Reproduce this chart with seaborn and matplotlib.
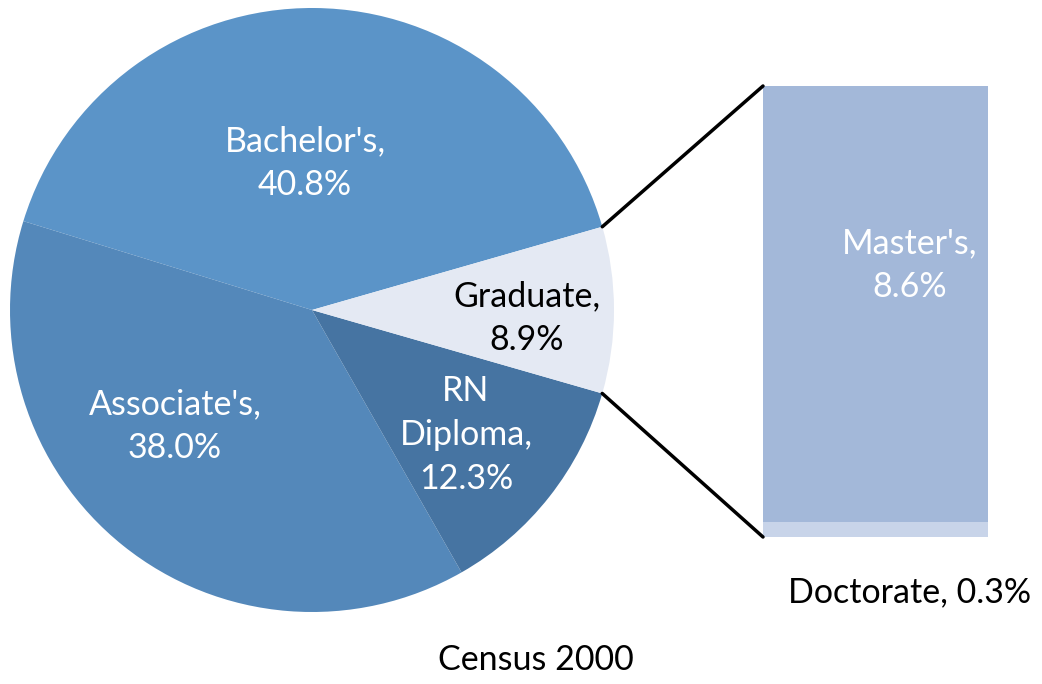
import numpy as np
import pandas as pd
import seaborn as sns
import matplotlib.pyplot as plt
from matplotlib.patches import ConnectionPatch

# pie data (counterclockwise from the Graduate slice's top edge)
pie_labels = ["Bachelor's", "Associate's", "RN Diploma", "Graduate"]
pie_values = [40.8, 38.0, 12.3, 8.9]
pie_colors = ["#5B94C8", "#5488BA", "#4674A2", "#E4E9F3"]

# breakdown of the Graduate slice
grad_labels = ["Master's", "Doctorate"]
grad_values = [8.6, 0.3]
grad_colors = ["#A3B8D9", "#C8D4E9"]

sns.set_theme(style="white")
plt.rcParams['font.family'] = ['Lato', 'DejaVu Sans']

W, H = 1042, 684
fig = plt.figure(figsize=(W / 100, H / 100), dpi=100)
ax = fig.add_axes([0, 0, 1, 1])

wedges, _ = ax.pie(pie_values, colors=pie_colors, startangle=16, counterclock=True,
                   center=(312, H - 310), radius=302, wedgeprops=dict(linewidth=0))
ax.set_xlim(0, W)
ax.set_ylim(0, H)
ax.set_aspect('equal')
ax.axis('off')

fs = 24.5
ls = 1.45
ax.text(305, H - 163, "Bachelor's,\n40.8%", ha='center', va='center', color='white', fontsize=fs, linespacing=ls)
ax.text(175, H - 426, "Associate's,\n38.0%", ha='center', va='center', color='white', fontsize=fs, linespacing=ls)
ax.text(466, H - 435, "RN\nDiploma,\n12.3%", ha='center', va='center', color='white', fontsize=fs, linespacing=ls)
ax.text(527, H - 318, "Graduate,\n8.9%", ha='center', va='center', color='black', fontsize=fs, linespacing=ls)
ax.text(536, H - 660, "Census 2000", ha='center', va='center', color='black', fontsize=fs)

# stacked bar for the graduate breakdown
bax = fig.add_axes([763 / W, (H - 537) / H, 225 / W, 451 / H])
total = sum(grad_values)
sns.barplot(x=["Graduate"], y=[total], color=grad_colors[0], saturation=1, width=1, ax=bax, linewidth=0)
sns.barplot(x=["Graduate"], y=[grad_values[1]], color=grad_colors[1], saturation=1, width=1, ax=bax, linewidth=0)
bax.set_xlim(-0.5, 0.5)
bax.set_ylim(0, total)
bax.axis('off')

fig.text(910 / W, 1 - 265 / H, "Master's,\n8.6%", ha='center', va='center',
         color='white', fontsize=fs, linespacing=ls)
fig.text(910 / W, 1 - 592 / H, "Doctorate, 0.3%", ha='center', va='center', color='black', fontsize=fs)

# connector lines from the Graduate wedge to the bar
gw = wedges[3]
cx, cy = gw.center
r = gw.r
for ang, yb in [(gw.theta2, total), (gw.theta1, 0)]:
    px = cx + r * np.cos(np.radians(ang))
    py = cy + r * np.sin(np.radians(ang))
    con = ConnectionPatch(xyA=(px, py), coordsA=ax.transData,
                          xyB=(-0.5, yb), coordsB=bax.transData,
                          color='black', linewidth=2.5)
    fig.add_artist(con)

fig.savefig("out.png", dpi=100)
